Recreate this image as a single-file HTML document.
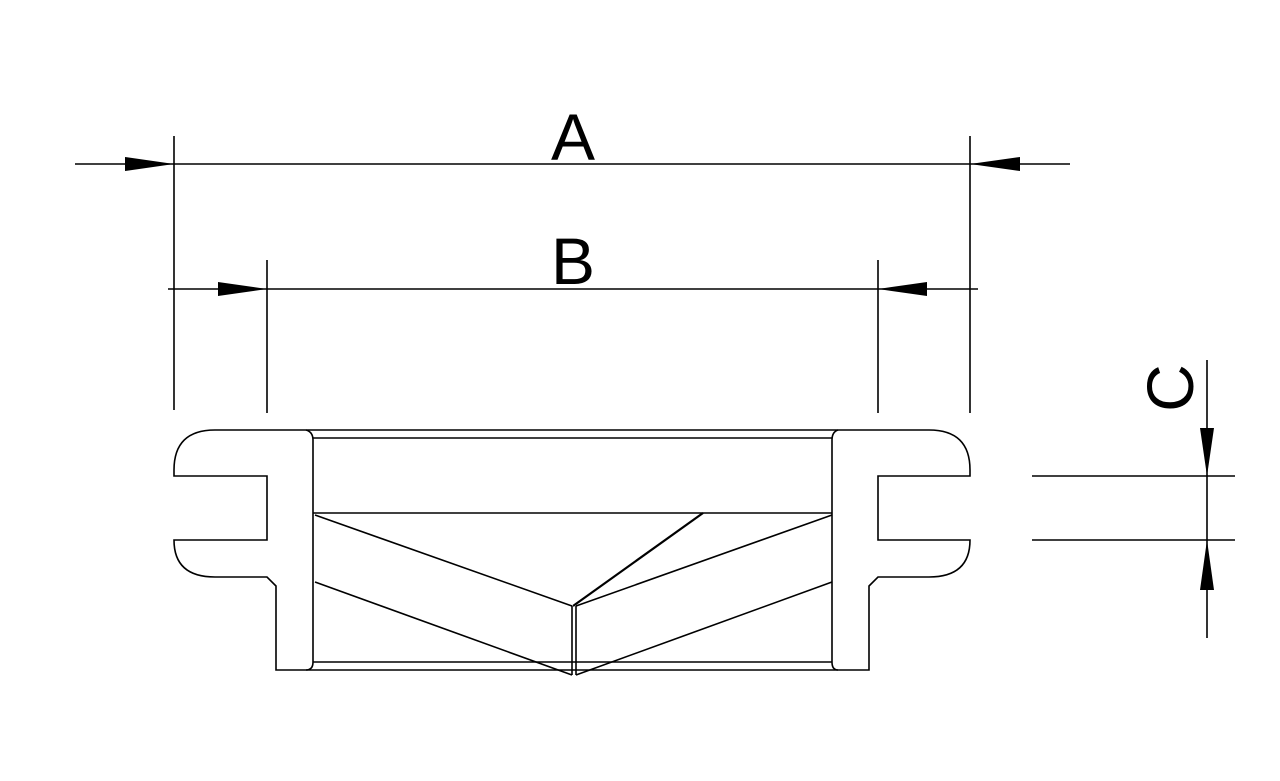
<!DOCTYPE html>
<html><head><style>html,body{margin:0;padding:0;background:#fff;width:1280px;height:781px;overflow:hidden}</style></head>
<body>
<svg width="1280" height="781" xmlns="http://www.w3.org/2000/svg">
<g fill="none" stroke="#000" stroke-width="1.6">
<!-- dimension lines -->
<line x1="75" y1="164" x2="1070" y2="164"/>
<line x1="174" y1="136" x2="174" y2="410"/>
<line x1="970" y1="136" x2="970" y2="413"/>
<line x1="168" y1="289" x2="978" y2="289"/>
<line x1="267" y1="260" x2="267" y2="413"/>
<line x1="878" y1="260" x2="878" y2="413"/>
<line x1="1207" y1="360" x2="1207" y2="638"/>
<line x1="1032" y1="476" x2="1235" y2="476"/>
<line x1="1032" y1="540" x2="1235" y2="540"/>
<!-- outline -->
<path d="M306 430 L215 430 Q174 430 174 470 L174 476 L267 476 L267 540 L174 540 Q174 577 215 577 L267 577 L276 586 L276 670 L306 670"/>
<path d="M306 430 Q313 432 313 440 L313 662 Q313 670 306 670"/>
<path d="M838 430 L929 430 Q970 430 970 470 L970 476 L878 476 L878 540 L970 540 Q970 577 929 577 L878 577 L869 586 L869 670 L838 670"/>
<path d="M838 430 Q832 432 832 440 L832 662 Q832 670 838 670"/>
<line x1="306" y1="430" x2="838" y2="430"/>
<line x1="306" y1="670" x2="838" y2="670"/>
<line x1="313" y1="438" x2="832" y2="438"/>
<line x1="313" y1="513" x2="832" y2="513"/>
<line x1="313" y1="662" x2="832" y2="662"/>
<!-- inner diagonals -->
<line x1="315" y1="515" x2="572" y2="606"/>
<line x1="315" y1="582" x2="572" y2="675"/>
<line x1="832" y1="515" x2="576" y2="606"/>
<line x1="832" y1="582" x2="576" y2="675"/>
<line x1="703" y1="513" x2="573" y2="606" stroke-width="2.2"/>
<line x1="572" y1="606" x2="572" y2="675"/>
<line x1="576" y1="606" x2="576" y2="675"/>
</g>
<g fill="#000">
<polygon points="174,164 125,157 125,171"/>
<polygon points="970,164 1020,157 1020,171"/>
<polygon points="267,289 218,282 218,296"/>
<polygon points="878,289 927,282 927,296"/>
<polygon points="1207,476 1200,428 1214,428"/>
<polygon points="1207,540 1200,590 1214,590"/>
</g>
<g font-family="Liberation Sans, sans-serif" font-size="66" fill="#000" text-anchor="middle">
<text x="573" y="160">A</text>
<text x="573" y="284">B</text>
<text transform="translate(1193,388) rotate(-90)" x="0" y="0">C</text>
</g>
</svg>
</body></html>
